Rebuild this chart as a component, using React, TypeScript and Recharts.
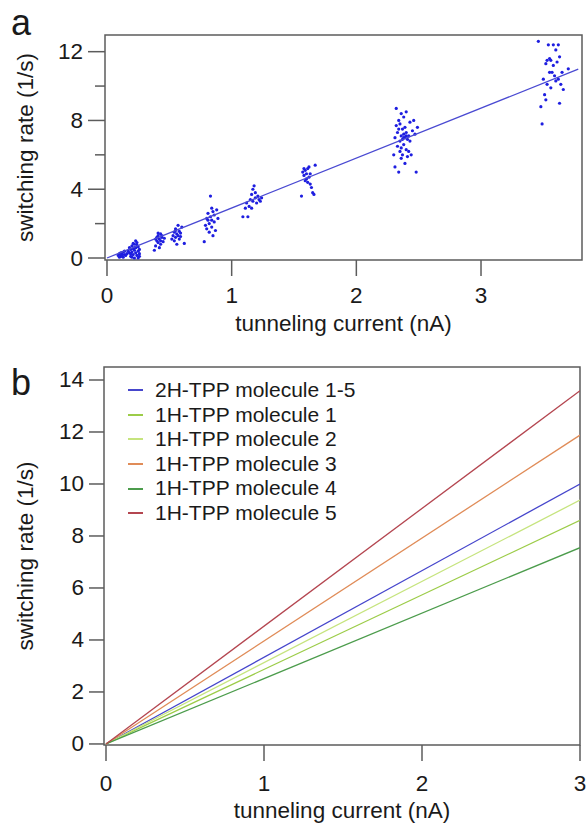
import { ScatterChart, Scatter, LineChart, Line, XAxis, YAxis, Legend, ReferenceArea } from "recharts";

const FONT = "'Liberation Sans', Arial, Helvetica, sans-serif";
const AXIS = "#5c5c5c";
const INK = "#1a1a1a";

// panel a: measured switching rates, one array per set current  [current nA, rate 1/s]
const groupA1 = [
  [0.09, 0.15], [0.10, 0.25], [0.11, 0.1], [0.12, 0.3], [0.12, 0.2], [0.13, 0.05], [0.13, 0.35], [0.14, 0.2],
  [0.11, 0.3], [0.15, 0.15], [0.10, 0.05], [0.14, 0.4], [0.16, 0.25], [0.12, 0.12], [0.18, 0.3], [0.19, 0.5],
  [0.19, 0.1], [0.20, 0.7], [0.20, 0.35], [0.21, 0.2], [0.21, 0.55], [0.22, 0.0], [0.22, 0.45], [0.22, 0.8],
  [0.23, 0.3], [0.23, 0.6], [0.24, 0.15], [0.24, 0.9], [0.25, 0.4], [0.25, 0.65], [0.26, 0.25], [0.26, 0.5],
  [0.20, 0.05], [0.18, 0.6], [0.23, 1.0], [0.21, 0.85], [0.24, 0.75], [0.19, 0.25], [0.26, 0.1], [0.17, 0.4],
  [0.22, 0.6], [0.25, 0.0],
];
const groupA2 = [
  [0.38, 0.45], [0.39, 0.7], [0.40, 1.0], [0.40, 1.2], [0.41, 0.9], [0.41, 1.3], [0.42, 1.1], [0.42, 0.6],
  [0.43, 1.4], [0.43, 1.0], [0.44, 1.2], [0.44, 1.3], [0.45, 0.95], [0.46, 1.15], [0.39, 1.1], [0.41, 1.45], [0.43, 0.8],
];
const groupA3 = [
  [0.52, 1.1], [0.53, 1.3], [0.54, 1.5], [0.54, 1.0], [0.55, 1.7], [0.55, 1.2], [0.56, 1.4], [0.56, 0.8],
  [0.57, 1.9], [0.57, 1.3], [0.58, 1.55], [0.58, 1.1], [0.59, 1.25], [0.60, 1.8], [0.62, 0.85], [0.55, 1.6], [0.59, 1.45],
];
const groupA4 = [
  [0.78, 0.95], [0.79, 1.9], [0.80, 2.3], [0.80, 1.7], [0.81, 2.6], [0.82, 2.0], [0.82, 1.5], [0.83, 2.4],
  [0.83, 3.6], [0.84, 2.2], [0.84, 1.8], [0.85, 2.7], [0.85, 1.3], [0.86, 2.5], [0.86, 2.1], [0.87, 1.6],
  [0.88, 2.8], [0.89, 2.3], [0.81, 2.2], [0.84, 2.9],
];
const groupA5 = [
  [1.09, 2.4], [1.11, 2.9], [1.12, 3.2], [1.13, 2.4], [1.14, 3.0], [1.15, 3.4], [1.16, 3.7], [1.17, 3.3],
  [1.17, 4.0], [1.18, 4.2], [1.19, 3.5], [1.20, 3.2], [1.21, 3.6], [1.22, 3.4], [1.23, 3.3], [1.24, 3.5],
  [1.16, 2.9], [1.19, 3.8],
];
const groupA6 = [
  [1.56, 3.6], [1.57, 5.0], [1.58, 5.2], [1.58, 4.8], [1.59, 5.1], [1.60, 4.6], [1.60, 4.9], [1.61, 4.4],
  [1.62, 4.7], [1.62, 5.3], [1.63, 4.3], [1.64, 4.1], [1.65, 3.8], [1.66, 3.7], [1.67, 5.4], [1.59, 4.5],
  [1.63, 4.9], [1.61, 5.2],
];
const groupA7 = [
  [2.30, 6.0], [2.31, 7.0], [2.31, 5.3], [2.32, 7.7], [2.32, 8.7], [2.33, 6.5], [2.33, 7.3], [2.34, 8.0],
  [2.34, 5.0], [2.35, 6.2], [2.35, 7.8], [2.35, 6.8], [2.36, 8.4], [2.36, 7.1], [2.36, 5.8], [2.37, 6.9],
  [2.37, 7.5], [2.37, 6.0], [2.38, 7.2], [2.38, 8.2], [2.38, 6.6], [2.39, 7.0], [2.39, 5.5], [2.39, 7.6],
  [2.40, 6.3], [2.40, 7.3], [2.40, 8.5], [2.41, 6.9], [2.41, 5.9], [2.42, 7.1], [2.42, 6.2], [2.43, 7.9],
  [2.43, 6.8], [2.44, 6.0], [2.45, 7.4], [2.46, 8.0], [2.47, 7.2], [2.48, 5.0], [2.49, 7.6], [2.36, 6.4],
  [2.38, 7.0], [2.40, 7.1], [2.34, 7.5],
];
const groupA8 = [
  [3.46, 12.6], [3.48, 8.8], [3.49, 7.8], [3.50, 10.4], [3.51, 9.5], [3.52, 9.2], [3.52, 11.3], [3.53, 10.1],
  [3.54, 12.4], [3.55, 11.6], [3.55, 10.8], [3.56, 11.5], [3.57, 10.8], [3.58, 12.4], [3.58, 11.2], [3.59, 10.6],
  [3.60, 12.1], [3.60, 10.3], [3.61, 11.4], [3.62, 12.4], [3.62, 10.4], [3.63, 9.0], [3.63, 11.7], [3.64, 10.1],
  [3.65, 10.8], [3.66, 9.8], [3.70, 11.0], [3.56, 9.9], [3.53, 11.5],
];
// linear fit through the origin
const fitA = [[0, 0], [3.78, 10.98]];

const xTicksA = [0, 1, 2, 3];
const yTicksA = [0, 2, 4, 6, 8, 10, 12];

// panel b: fitted lines, rate at 0 and 3 nA
const currentB = [0, 3];
const namesB = [
  "2H-TPP molecule 1-5",
  "1H-TPP molecule 1",
  "1H-TPP molecule 2",
  "1H-TPP molecule 3",
  "1H-TPP molecule 4",
  "1H-TPP molecule 5",
];
const ratesB = [
  [0, 10.0],
  [0, 8.6],
  [0, 9.38],
  [0, 11.88],
  [0, 7.55],
  [0, 13.59],
];
const colorsB = ["#4646cc", "#9ccc48", "#c6e47e", "#e08c58", "#4c9c4c", "#b44650"];

const xTicksB = [0, 1, 2, 3];
const yTicksB = [0, 2, 4, 6, 8, 10, 12, 14];

const pointsA = [groupA1, groupA2, groupA3, groupA4, groupA5, groupA6, groupA7, groupA8]
  .flat()
  .map(([x, y]) => ({ x, y }));
const fitRows = fitA.map(([x, y]) => ({ x, y }));
const rowsB = currentB.map((x, i) => {
  const row: any = { x };
  namesB.forEach((n, k) => (row[n] = ratesB[k][i]));
  return row;
});

const TICK_FS = 22.5;
const TITLE_FS = 22.5;

const LeftTick = ({ x, y, payload, labelled, major, minor }: any) => {
  const v = payload.value;
  const show = labelled(v);
  const len = show ? major : minor;
  return (
    <g>
      <line x1={x - len} y1={y} x2={x} y2={y} stroke={AXIS} strokeWidth={1.5} />
      {show && (
        <text x={x - major - 5} y={y} textAnchor="end" dominantBaseline="central" fontSize={TICK_FS} fill={INK} fontFamily={FONT}>
          {v}
        </text>
      )}
    </g>
  );
};

const BottomTick = ({ x, y, payload, len, gap }: any) => (
  <g>
    <line x1={x} y1={y} x2={x} y2={y + len} stroke={AXIS} strokeWidth={1.5} />
    <text x={x} y={y + gap} textAnchor="middle" dominantBaseline="central" fontSize={TICK_FS} fill={INK} fontFamily={FONT}>
      {payload.value}
    </text>
  </g>
);

const YTitle = ({ viewBox, text, letter, lx, ly, tx }: any) => {
  const cy = viewBox.y + viewBox.height / 2;
  return (
    <g fontFamily={FONT} fill={INK}>
      <text x={lx} y={ly} fontSize={36}>{letter}</text>
      <text x={tx} y={cy} transform={`rotate(-90 ${tx} ${cy})`} textAnchor="middle" dominantBaseline="central" fontSize={TITLE_FS}>
        {text}
      </text>
    </g>
  );
};

const XTitle = ({ viewBox, text, dy }: any) => (
  <text
    x={viewBox.x + viewBox.width / 2}
    y={viewBox.y + dy}
    textAnchor="middle"
    dominantBaseline="central"
    fontSize={TITLE_FS}
    fill={INK}
    fontFamily={FONT}
  >
    {text}
  </text>
);

const LegendB = () => (
  <div style={{ fontFamily: FONT, fontSize: 21, color: INK, lineHeight: "24.6px" }}>
    {namesB.map((n, i) => (
      <div key={n} style={{ display: "flex", alignItems: "center", height: 24.6, whiteSpace: "nowrap" }}>
        <span style={{ display: "inline-block", width: 15, borderTop: `2px solid ${colorsB[i]}`, marginRight: 12 }} />
        {n}
      </div>
    ))}
  </div>
);

const dot = (p: any) => <circle cx={p.cx} cy={p.cy} r={1.6} fill="#1e1ee0" />;
const noDot = () => <g />;

export default function App() {
  const xDomA = [-0.016, 3.81];
  const yDomA = [-0.116, 12.97];
  const xDomB = [-0.0127, 3];
  const yDomB = [-0.04, 14.5];
  return (
    <div style={{ width: 587, height: 824, background: "#fff" }}>
      <style>{"body{margin:0}"}</style>
      <ScatterChart width={587} height={340} margin={{ top: 35, right: 5, left: 0, bottom: 0 }}>
        <XAxis
          type="number"
          dataKey="x"
          domain={xDomA}
          ticks={xTicksA}
          allowDataOverflow
          height={80}
          axisLine={false}
          tickLine={false}
          tickSize={0}
          tickMargin={0}
          tick={(p: any) => <BottomTick {...p} len={16} gap={35} />}
          label={<XTitle text="tunneling current (nA)" dy={63} />}
        />
        <YAxis
          type="number"
          dataKey="y"
          domain={yDomA}
          ticks={yTicksA}
          allowDataOverflow
          width={105}
          axisLine={false}
          tickLine={false}
          tickSize={0}
          tickMargin={0}
          tick={(p: any) => <LeftTick {...p} labelled={(v: number) => v % 4 === 0} major={17} minor={10} />}
          label={<YTitle text="switching rate (1/s)" letter="a" lx={11} ly={35} tx={25} />}
        />
        <ReferenceArea x1={xDomA[0]} x2={xDomA[1]} y1={yDomA[0]} y2={yDomA[1]} fill="none" stroke={AXIS} strokeWidth={1.5} strokeOpacity={1} ifOverflow="visible" />
        <Scatter data={pointsA} shape={dot} isAnimationActive={false} />
        <Scatter data={fitRows} shape={noDot} line={{ stroke: "#4a4ad2", strokeWidth: 1.3 }} isAnimationActive={false} />
      </ScatterChart>
      <LineChart width={587} height={484} data={rowsB} margin={{ top: 27, right: 7, left: 0, bottom: 0 }}>
        <XAxis
          type="number"
          dataKey="x"
          domain={xDomB}
          ticks={xTicksB}
          allowDataOverflow
          height={79}
          axisLine={false}
          tickLine={false}
          tickSize={0}
          tickMargin={0}
          tick={(p: any) => <BottomTick {...p} len={16} gap={38} />}
          label={<XTitle text="tunneling current (nA)" dy={65} />}
        />
        <YAxis
          type="number"
          domain={yDomB}
          ticks={yTicksB}
          allowDataOverflow
          width={104}
          axisLine={false}
          tickLine={false}
          tickSize={0}
          tickMargin={0}
          tick={(p: any) => <LeftTick {...p} labelled={() => true} major={15} minor={15} />}
          label={<YTitle text="switching rate (1/s)" letter="b" lx={11} ly={55} tx={25} />}
        />
        <ReferenceArea x1={xDomB[0]} x2={xDomB[1]} y1={yDomB[0]} y2={yDomB[1]} fill="none" stroke={AXIS} strokeWidth={1.5} strokeOpacity={1} ifOverflow="visible" />
        {namesB.map((n, i) => (
          <Line key={n} dataKey={n} stroke={colorsB[i]} strokeWidth={1.3} dot={false} isAnimationActive={false} />
        ))}
        <Legend
          layout="vertical"
          align="center"
          verticalAlign="middle"
          content={() => <LegendB />}
          wrapperStyle={{ left: 128, top: 38, width: "auto" }}
        />
      </LineChart>
    </div>
  );
}
